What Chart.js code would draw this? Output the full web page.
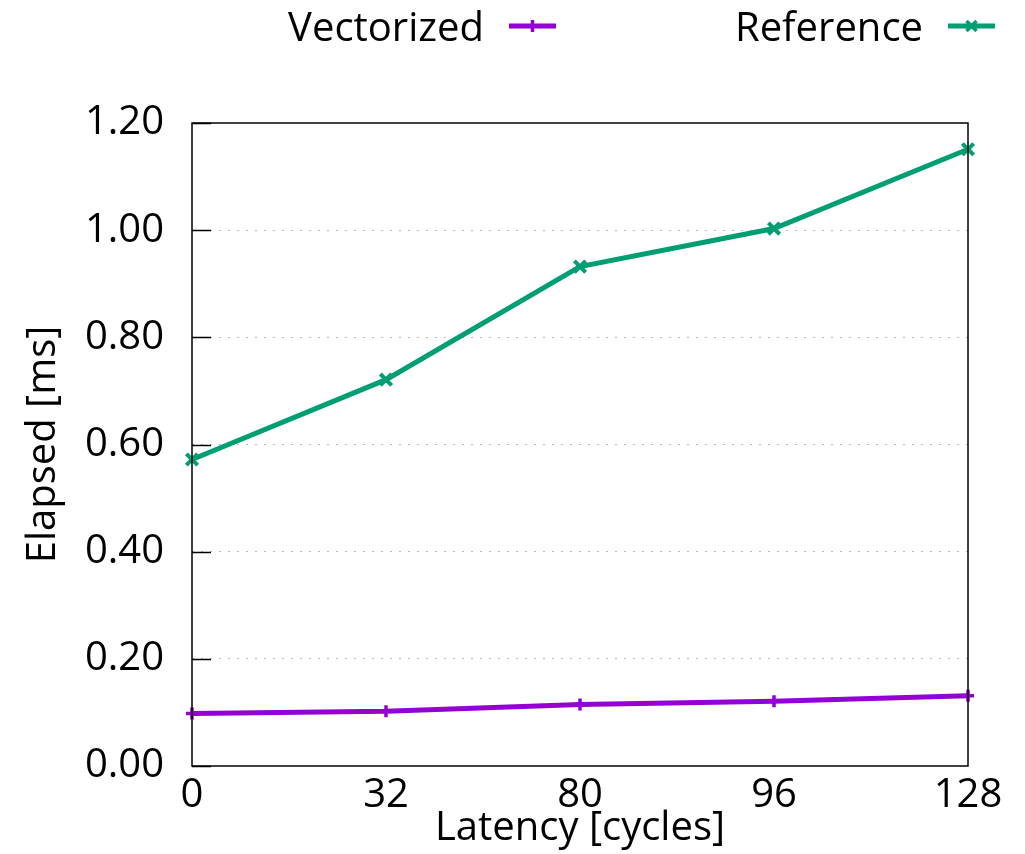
<!DOCTYPE html>
<html>
<head>
<meta charset="utf-8">
<script src="https://cdn.jsdelivr.net/npm/chart.js@4/dist/chart.umd.min.js"></script>
<style>
  body { margin: 0; background: #fff; }
  canvas { display: block; }
</style>
</head>
<body>
<canvas id="elapsed" width="1025" height="854"></canvas>
<script>
// latency values on the x axis (cycles)
var latency = ["0", "32", "80", "96", "128"];
// elapsed time in ms
var vectorized = [0.098, 0.102, 0.115, 0.121, 0.131];
var reference = [0.572, 0.721, 0.932, 1.003, 1.151];
var yTicks = [0, 0.2, 0.4, 0.6, 0.8, 1.0, 1.2];

var FONT = "'Open Sans', 'DejaVu Sans', sans-serif";
var FSIZE = 40;

// gnuplot style frame, inner ticks and key above the plot
var gnuplotFrame = {
  id: 'gnuplotFrame',
  afterDraw: function (chart) {
    var ctx = chart.ctx;
    var a = chart.chartArea;
    var y = chart.scales.y;
    ctx.save();
    ctx.strokeStyle = '#000';
    ctx.lineWidth = 1.5;
    ctx.strokeRect(a.left, a.top, a.right - a.left, a.bottom - a.top);
    // short ticks on the left side
    yTicks.forEach(function (v) {
      var py = Math.round(y.getPixelForValue(v)) + 0.5;
      ctx.beginPath();
      ctx.moveTo(a.left, py);
      ctx.lineTo(a.left + 19, py);
      ctx.stroke();
    });

    // key: text then line sample with marker
    var ends = [484, 923];
    ctx.font = FSIZE + 'px ' + FONT;
    ctx.textAlign = 'right';
    ctx.textBaseline = 'middle';
    chart.data.datasets.forEach(function (ds, i) {
      var tx = ends[i];
      var ly = 26;
      ctx.fillStyle = '#000';
      ctx.fillText(ds.label, tx, 30);
      var x0 = tx + 25, x1 = tx + 72, xm = (x0 + x1) / 2;
      ctx.strokeStyle = ds.borderColor;
      ctx.lineWidth = 5;
      ctx.beginPath();
      ctx.moveTo(x0, ly);
      ctx.lineTo(x1, ly);
      ctx.stroke();
      ctx.lineWidth = 3.5;
      ctx.beginPath();
      if (ds.pointStyle === 'cross') {
        ctx.moveTo(xm, ly - 6);
        ctx.lineTo(xm, ly + 6);
      } else {
        ctx.moveTo(xm - 5, ly - 5);
        ctx.lineTo(xm + 5, ly + 5);
        ctx.moveTo(xm + 5, ly - 5);
        ctx.lineTo(xm - 5, ly + 5);
      }
      ctx.stroke();
    });
    ctx.restore();
  }
};

var ctx = document.getElementById('elapsed').getContext('2d');
var chart = new Chart(ctx, {
  type: 'line',
  data: {
    labels: latency,
    datasets: [
      {
        label: 'Vectorized',
        data: vectorized,
        borderColor: '#9400d3',
        backgroundColor: '#9400d3',
        borderWidth: 5,
        pointStyle: 'cross',
        pointRadius: 6,
        pointBorderWidth: 3.5,
        tension: 0
      },
      {
        label: 'Reference',
        data: reference,
        borderColor: '#009e73',
        backgroundColor: '#009e73',
        borderWidth: 5,
        pointStyle: 'crossRot',
        pointRadius: 8,
        pointBorderWidth: 4,
        tension: 0
      }
    ]
  },
  options: {
    responsive: false,
    animation: false,
    layout: {
      padding: { top: 123, right: 57, bottom: 0, left: 0 }
    },
    plugins: {
      legend: { display: false },
      tooltip: { enabled: false }
    },
    scales: {
      x: {
        offset: false,
        grid: { display: false, drawTicks: false },
        border: { display: false },
        ticks: {
          color: '#000',
          padding: 6,
          maxRotation: 0,
          font: { family: FONT, size: FSIZE }
        },
        title: {
          display: true,
          text: 'Latency [cycles]',
          color: '#000',
          padding: { top: 0, bottom: 1 },
          font: { family: FONT, size: FSIZE }
        },
        afterFit: function (s) { s.height = 88; }
      },
      y: {
        min: 0,
        max: 1.2,
        afterBuildTicks: function (s) {
          s.ticks = yTicks.map(function (v) { return { value: v }; });
        },
        grid: {
          drawTicks: false,
          lineWidth: 1,
          color: function (c) {
            var v = c.tick ? c.tick.value : 0;
            return (v <= 0 || v >= 1.2) ? 'rgba(0,0,0,0)' : '#b8b8b8';
          }
        },
        border: { display: false, dash: [2, 7] },
        ticks: {
          color: '#000',
          padding: 28,
          font: { family: FONT, size: FSIZE },
          callback: function (v) { return Number(v).toFixed(2); }
        },
        title: {
          display: true,
          text: 'Elapsed [ms]',
          color: '#000',
          padding: { top: 20, bottom: 0 },
          font: { family: FONT, size: FSIZE }
        },
        afterFit: function (s) { s.width = 192; }
      }
    }
  },
  plugins: [gnuplotFrame]
});
</script>
</body>
</html>
